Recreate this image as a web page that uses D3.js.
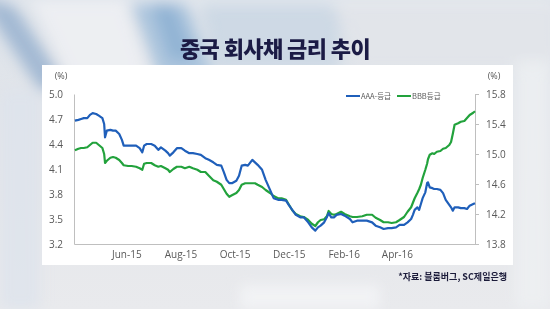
<!DOCTYPE html>
<html>
<head>
<meta charset="utf-8">
<script src="https://cdn.jsdelivr.net/npm/d3@7"></script>
<style>
body { margin: 0; background: #e6e8ec; }
svg { display: block; }
</style>
</head>
<body>
<div id="chart"></div>
<script>
// Canvas size
var width = 550, height = 309;

// Dates of the sampled points
var dates = [
  "2015-04-04","2015-04-08","2015-04-11","2015-04-14","2015-04-18","2015-04-21","2015-04-24","2015-04-28",
  "2015-05-01","2015-05-05","2015-05-07","2015-05-08","2015-05-10","2015-05-14","2015-05-17","2015-05-20",
  "2015-05-24","2015-05-27","2015-05-29","2015-06-03","2015-06-07","2015-06-12","2015-06-16","2015-06-19",
  "2015-06-21","2015-06-24","2015-06-29","2015-07-03","2015-07-07","2015-07-10","2015-07-15","2015-07-18",
  "2015-07-20","2015-07-24","2015-07-28","2015-08-02","2015-08-06","2015-08-11","2015-08-15","2015-08-20",
  "2015-08-24","2015-08-29","2015-09-02","2015-09-07","2015-09-11","2015-09-16","2015-09-19","2015-09-22",
  "2015-09-25","2015-09-28","2015-10-03","2015-10-06","2015-10-09","2015-10-13","2015-10-16","2015-10-21",
  "2015-10-24","2015-10-27","2015-11-01","2015-11-05","2015-11-10","2015-11-14","2015-11-19","2015-11-23",
  "2015-11-28","2015-12-01","2015-12-05","2015-12-09","2015-12-14","2015-12-18","2015-12-23","2015-12-27",
  "2015-12-31","2016-01-03","2016-01-06","2016-01-10","2016-01-13","2016-01-15","2016-01-18","2016-01-21",
  "2016-01-24","2016-01-29","2016-02-02","2016-02-08","2016-02-11","2016-02-16","2016-02-22","2016-02-27",
  "2016-03-04","2016-03-08","2016-03-13","2016-03-17","2016-03-22","2016-03-26","2016-03-31","2016-04-04",
  "2016-04-09","2016-04-13","2016-04-17","2016-04-19","2016-04-21","2016-04-24","2016-04-26","2016-04-28",
  "2016-04-30","2016-05-03","2016-05-05","2016-05-06","2016-05-08","2016-05-11","2016-05-13","2016-05-16",
  "2016-05-20","2016-05-23","2016-05-26","2016-05-30","2016-06-01","2016-06-03","2016-06-05","2016-06-09",
  "2016-06-12","2016-06-16","2016-06-19","2016-06-22","2016-06-26","2016-06-28"
];

// AAA-rated yields (left axis, %)
var aaa = [
  4.68,4.69,4.70,4.71,4.71,4.75,4.77,4.76,4.74,4.71,4.64,4.48,4.56,4.57,4.56,4.56,
  4.52,4.45,4.38,4.38,4.38,4.38,4.35,4.30,4.38,4.40,4.40,4.38,4.33,4.36,4.32,4.29,
  4.26,4.30,4.35,4.35,4.32,4.29,4.29,4.28,4.27,4.23,4.21,4.18,4.15,4.14,4.06,3.97,
  3.93,3.93,3.96,4.02,4.14,4.15,4.14,4.21,4.18,4.15,4.09,3.97,3.85,3.75,3.73,3.73,
  3.72,3.67,3.61,3.55,3.52,3.52,3.46,3.40,3.36,3.40,3.42,3.46,3.52,3.57,3.52,3.52,
  3.55,3.56,3.54,3.50,3.46,3.48,3.48,3.48,3.46,3.42,3.40,3.38,3.39,3.39,3.40,3.43,
  3.43,3.46,3.50,3.55,3.61,3.64,3.61,3.68,3.75,3.82,3.93,3.94,3.88,3.87,3.86,3.86,
  3.85,3.81,3.73,3.67,3.64,3.60,3.64,3.64,3.63,3.63,3.62,3.66,3.68,3.69
];

// BBB-rated yields (right axis, %)
var bbb = [
  15.05,15.07,15.08,15.08,15.09,15.12,15.15,15.15,15.12,15.08,15.00,14.88,14.91,14.95,14.96,14.95,
  14.92,14.88,14.85,14.84,14.84,14.83,14.81,14.79,14.87,14.88,14.88,14.85,14.83,14.84,14.81,14.79,
  14.76,14.80,14.83,14.83,14.81,14.83,14.81,14.79,14.76,14.76,14.71,14.65,14.63,14.59,14.53,14.47,
  14.43,14.45,14.48,14.52,14.59,14.61,14.61,14.61,14.61,14.59,14.56,14.52,14.48,14.44,14.41,14.41,
  14.39,14.33,14.25,14.20,14.17,14.16,14.12,14.07,14.04,14.09,14.12,14.13,14.17,14.24,14.20,14.19,
  14.20,14.23,14.20,14.17,14.16,14.16,14.17,14.19,14.19,14.15,14.12,14.09,14.09,14.08,14.09,14.12,
  14.16,14.23,14.29,14.35,14.41,14.48,14.53,14.59,14.68,14.79,14.87,14.93,14.99,15.01,15.00,15.03,
  15.04,15.07,15.08,15.12,15.16,15.27,15.39,15.41,15.43,15.44,15.48,15.52,15.55,15.57
];

var seriesNames = ["AAA-등급", "BBB등급"];
var seriesColors = ["#1f5fba", "#22a23c"];
var leftTicks = [3.2, 3.5, 3.8, 4.1, 4.4, 4.7, 5.0];
var rightTicks = [13.8, 14.2, 14.6, 15.0, 15.4, 15.8];
var monthTicks = ["2015-06-01", "2015-08-01", "2015-10-01", "2015-12-01", "2016-02-01", "2016-04-01"];
var dateRange = ["2015-04-03", "2016-06-28"];

var parse = d3.timeParse("%Y-%m-%d");

var svg = d3.select("#chart").append("svg")
    .attr("width", width)
    .attr("height", height);

// Background: grey with diagonal blue streaks at the top left
var defs = svg.append("defs");
var bg = defs.append("linearGradient").attr("id", "bg")
    .attr("x1", 0).attr("y1", 0).attr("x2", 0).attr("y2", 1);
bg.append("stop").attr("offset", 0).attr("stop-color", "#dde3ea");
bg.append("stop").attr("offset", 0.5).attr("stop-color", "#e4e6ea");
bg.append("stop").attr("offset", 1).attr("stop-color", "#e9eaed");
defs.append("filter").attr("id", "blur")
    .attr("x", "-50%").attr("y", "-50%").attr("width", "200%").attr("height", "200%")
    .append("feGaussianBlur").attr("stdDeviation", 7);

svg.append("rect").attr("width", width).attr("height", height).attr("fill", "url(#bg)");

var streaks = [
    {pts: "-20,0 10,0 70,90 40,90", c: "#9cb5d0", o: 0.9},
    {pts: "30,0 125,0 150,80 70,80", c: "#eef0f3", o: 0.9},
    {pts: "130,0 185,0 215,80 160,80", c: "#a7c2dc", o: 0.9},
    {pts: "150,0 172,0 195,60 170,60", c: "#7fa7cf", o: 0.6},
    {pts: "200,0 340,0 340,70 215,70", c: "#c9d6e4", o: 0.8},
    {pts: "330,0 560,0 560,70 360,70", c: "#e2e5ea", o: 0.8},
    {pts: "0,0 550,0 550,3 0,3", c: "#f4f5f7", o: 0.9},
    {pts: "0,90 40,90 40,309 0,309", c: "#dde4ec", o: 0.8},
    {pts: "240,285 380,285 380,309 240,309", c: "#f3f4f6", o: 0.9},
    {pts: "515,60 550,60 550,309 515,309", c: "#eef0f3", o: 0.8}
];
svg.append("g").attr("filter", "url(#blur)")
  .selectAll("polygon")
  .data(streaks)
  .join("polygon")
    .attr("points", d => d.pts)
    .attr("fill", d => d.c)
    .attr("opacity", d => d.o);

// Title
svg.append("text")
    .attr("x", 275).attr("y", 57)
    .attr("text-anchor", "middle")
    .style("font-family", "'Noto Sans CJK KR', sans-serif")
    .style("font-weight", "900")
    .style("font-size", "22px")
    .style("letter-spacing", "-0.6px")
    .style("fill", "#1b1b45")
    .text("중국 회사채 금리 추이");

// White panel
svg.append("rect")
    .attr("x", 42).attr("y", 65)
    .attr("width", 471).attr("height", 200)
    .attr("fill", "#ffffff");

// Scales
var x = d3.scaleTime()
    .domain(dateRange.map(parse))
    .range([74, 475]);
var yL = d3.scaleLinear().domain([3.2, 5.0]).range([244, 94]);
var yR = d3.scaleLinear().domain([13.8, 15.8]).range([244, 94]);

var font = "'Open Sans', 'Noto Sans', sans-serif";

// Axes
var gL = svg.append("g").attr("transform", "translate(74,0)")
    .call(d3.axisLeft(yL).tickValues(leftTicks).tickSize(0).tickSizeOuter(0)
        .tickPadding(11).tickFormat(d3.format(".1f")));
var gR = svg.append("g").attr("transform", "translate(475,0)")
    .call(d3.axisRight(yR).tickValues(rightTicks).tickSize(4).tickSizeOuter(0)
        .tickPadding(7).tickFormat(d3.format(".1f")));
var gB = svg.append("g").attr("transform", "translate(0,244)")
    .call(d3.axisBottom(x).tickValues(monthTicks.map(parse)).tickSize(0).tickSizeOuter(0)
        .tickPadding(7).tickFormat(d3.timeFormat("%b-%y")));

[gL, gR, gB].forEach(function(g) {
    g.select(".domain").attr("stroke", "#bfbfbf");
    g.selectAll(".tick line").attr("stroke", "#bfbfbf");
    g.selectAll(".tick text")
        .style("font-family", font)
        .style("font-size", "10px")
        .attr("fill", "#595959");
});

// Unit labels
svg.selectAll(".unit")
  .data([61, 494])
  .join("text")
    .attr("class", "unit")
    .attr("x", d => d).attr("y", 79)
    .attr("text-anchor", "middle")
    .style("font-family", font)
    .style("font-size", "9px")
    .attr("fill", "#595959")
    .text("(%)");

// Lines
var points = dates.map((d, i) => ({date: parse(d), a: aaa[i], b: bbb[i]}));

svg.append("path")
    .datum(points)
    .attr("fill", "none")
    .attr("stroke", seriesColors[1])
    .attr("stroke-width", 2.2)
    .attr("stroke-linejoin", "round")
    .attr("d", d3.line().x(d => x(d.date)).y(d => yR(d.b)));

svg.append("path")
    .datum(points)
    .attr("fill", "none")
    .attr("stroke", seriesColors[0])
    .attr("stroke-width", 2.2)
    .attr("stroke-linejoin", "round")
    .attr("d", d3.line().x(d => x(d.date)).y(d => yL(d.a)));

// Legend
var legend = svg.selectAll(".legend")
  .data(seriesNames)
  .join("g")
    .attr("class", "legend")
    .attr("transform", (d, i) => "translate(" + (346 + i * 51) + ",96)");
legend.append("line")
    .attr("x1", 0).attr("x2", 14)
    .attr("stroke", (d, i) => seriesColors[i])
    .attr("stroke-width", 2);
legend.append("text")
    .attr("x", 15).attr("y", 3)
    .style("font-family", "'Noto Sans CJK KR', sans-serif")
    .style("font-size", "7.5px")
    .attr("fill", "#595959")
    .text(d => d);

// Source
svg.append("text")
    .attr("x", 507).attr("y", 280)
    .attr("text-anchor", "end")
    .style("font-family", "'Noto Sans CJK KR', sans-serif")
    .style("font-weight", "bold")
    .style("font-size", "9px")
    .attr("fill", "#1b1b3a")
    .text("*자료: 블룸버그, SC제일은행");
</script>
</body>
</html>
